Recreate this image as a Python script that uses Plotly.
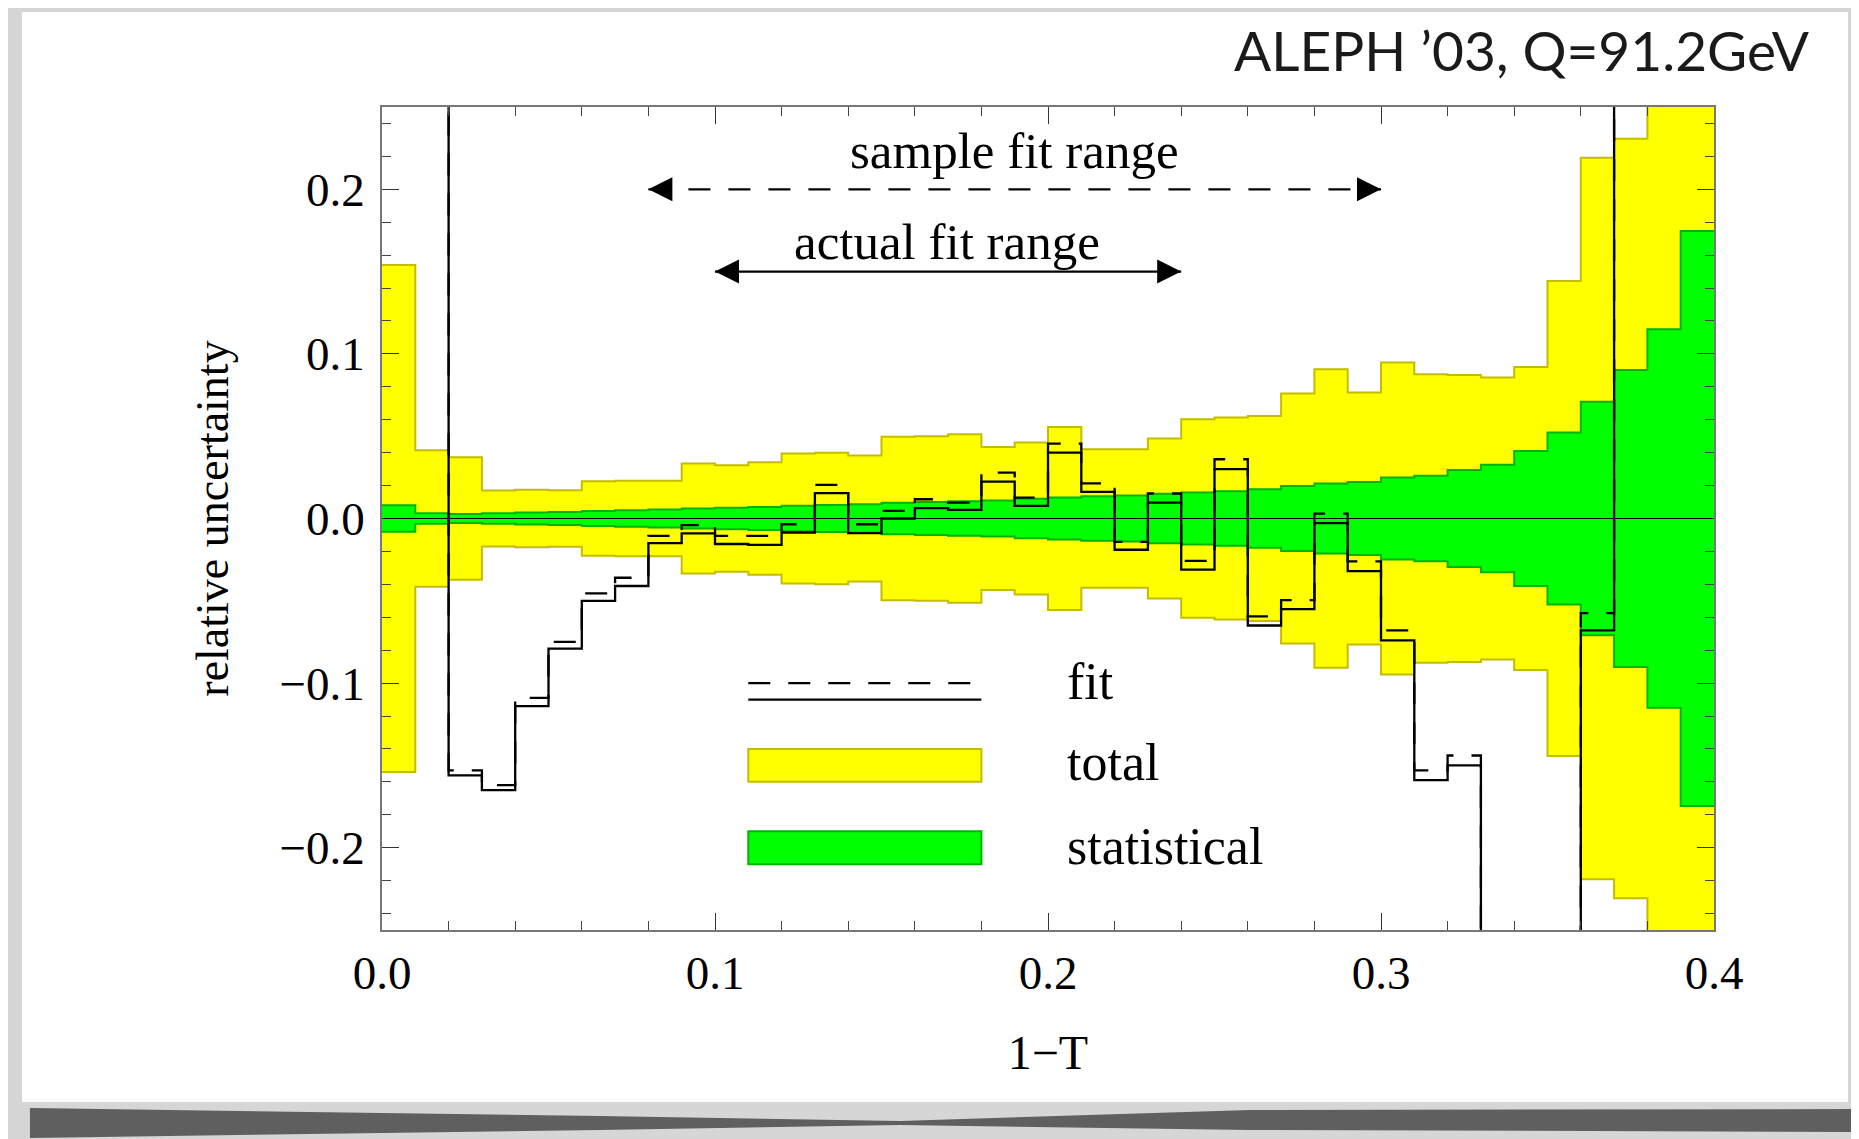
import plotly.graph_objects as go

# ---------------- data ----------------
bin_edges = [0.00, 0.01, 0.02, 0.03, 0.04, 0.05, 0.06, 0.07, 0.08, 0.09,
             0.10, 0.11, 0.12, 0.13, 0.14, 0.15, 0.16, 0.17, 0.18, 0.19,
             0.20, 0.21, 0.22, 0.23, 0.24, 0.25, 0.26, 0.27, 0.28, 0.29,
             0.30, 0.31, 0.32, 0.33, 0.34, 0.35, 0.36, 0.37, 0.38, 0.39, 0.40]

# total relative uncertainty (symmetric band), one value per bin
total_unc = [0.154, 0.0415, 0.0372, 0.0170, 0.0175, 0.0172, 0.0226, 0.0230, 0.0230, 0.0334,
             0.0324, 0.0341, 0.0395, 0.0400, 0.0383, 0.0496, 0.0500, 0.0512, 0.0435, 0.0461,
             0.0556, 0.0420, 0.0420, 0.0486, 0.0603, 0.0613, 0.0623, 0.0759, 0.0906, 0.0765,
             0.0947, 0.0876, 0.0872, 0.0856, 0.0920, 0.1443, 0.2192, 0.2307, 0.3000, 0.3000]

# statistical relative uncertainty (symmetric band)
stat_unc = [0.0080, 0.0032, 0.0028, 0.0032, 0.0036, 0.0040, 0.0045, 0.0050, 0.0055, 0.0060,
            0.0065, 0.0070, 0.0077, 0.0082, 0.0087, 0.0095, 0.0100, 0.0105, 0.0110, 0.0120,
            0.0127, 0.0135, 0.0140, 0.0150, 0.0158, 0.0165, 0.0178, 0.0198, 0.0212, 0.0222,
            0.0249, 0.0259, 0.0295, 0.0326, 0.0410, 0.0522, 0.0710, 0.0902, 0.1150, 0.1746]

# fit (solid) and fit (dashed); values outside +-0.25 are off scale
fit_solid = [0.40, 0.40, -0.156, -0.165, -0.114, -0.079, -0.050, -0.041, -0.015, -0.009,
             -0.0155, -0.016, -0.0085, 0.0154, -0.0089, 0.000, 0.0063, 0.0053, 0.0224, 0.0077,
             0.040, 0.0162, -0.019, 0.0097, -0.031, 0.030, -0.065, -0.055, -0.0028, -0.032,
             -0.074, -0.159, -0.150, -0.40, -0.40, -0.40, -0.068, 0.40, 0.40, 0.40]

fit_dashed = [0.40, 0.40, -0.153, -0.162, -0.109, -0.075, -0.0455, -0.036, -0.0105, -0.004,
              -0.0105, -0.0105, -0.0035, 0.0204, -0.0035, 0.0046, 0.0117, 0.0097, 0.0279, 0.0127,
              0.0455, 0.0214, -0.0142, 0.0152, -0.0257, 0.036, -0.0595, -0.0496, 0.003, -0.026,
              -0.068, -0.153, -0.144, -0.40, -0.40, -0.40, -0.0575, 0.40, 0.40, 0.40]

sample_fit_range = [0.08, 0.30]
actual_fit_range = [0.10, 0.24]

x_ticks = [0.0, 0.1, 0.2, 0.3, 0.4]
y_ticks = [-0.2, -0.1, 0.0, 0.1, 0.2]

# ---------------- style ----------------
YELLOW = "#FFFF00"
YELLOW_EDGE = "#C4BC00"
GREEN = "#00FF00"
GREEN_EDGE = "#00B400"
SERIF = "Liberation Serif, Times New Roman, serif"

OFF = 8  # page body margin
W, H = 1859 - OFF, 1139 - OFF
ML, MT = 382 - OFF, 107 - OFF
MR, MB = 1859 - 1714, 1139 - 930
PW, PH = W - ML - MR, H - MT - MB


def px(xp):
    """screen pixel x -> paper coordinate"""
    return (xp - OFF - ML) / PW


def py(yp):
    """screen pixel y -> paper coordinate"""
    return (H - MB - (yp - OFF)) / PH


def step_y(vals):
    return list(vals) + [vals[-1]]


fig = go.Figure()

# total band
fig.add_trace(go.Scatter(x=bin_edges, y=step_y([-v for v in total_unc]), mode="lines",
                         line=dict(shape="hv", color=YELLOW_EDGE, width=2),
                         hoverinfo="skip", showlegend=False))
fig.add_trace(go.Scatter(x=bin_edges, y=step_y(total_unc), mode="lines",
                         line=dict(shape="hv", color=YELLOW_EDGE, width=2),
                         fill="tonexty", fillcolor=YELLOW, name="total", showlegend=False))
# statistical band
fig.add_trace(go.Scatter(x=bin_edges, y=step_y([-v for v in stat_unc]), mode="lines",
                         line=dict(shape="hv", color=GREEN_EDGE, width=2),
                         hoverinfo="skip", showlegend=False))
fig.add_trace(go.Scatter(x=bin_edges, y=step_y(stat_unc), mode="lines",
                         line=dict(shape="hv", color=GREEN_EDGE, width=2),
                         fill="tonexty", fillcolor=GREEN, name="statistical", showlegend=False))

# fit curves
fig.add_trace(go.Scatter(x=bin_edges, y=step_y(fit_dashed), mode="lines",
                         line=dict(shape="hv", color="black", width=2.3, dash="22px,18px"),
                         name="fit (dashed)", showlegend=False))
fig.add_trace(go.Scatter(x=bin_edges, y=step_y(fit_solid), mode="lines",
                         line=dict(shape="hv", color="black", width=2.3),
                         name="fit", showlegend=False))

# fit-range arrows
fig.add_trace(go.Scatter(x=sample_fit_range, y=[0.2, 0.2], mode="lines",
                         line=dict(color="black", width=2.3, dash="22px,18px"),
                         hoverinfo="skip", showlegend=False))
fig.add_trace(go.Scatter(x=sample_fit_range, y=[0.2, 0.2], mode="markers",
                         marker=dict(symbol=["arrow-left", "arrow-right"], size=24, color="black"),
                         hoverinfo="skip", showlegend=False))
fig.add_trace(go.Scatter(x=actual_fit_range, y=[0.15, 0.15], mode="lines",
                         line=dict(color="black", width=2.3),
                         hoverinfo="skip", showlegend=False))
fig.add_trace(go.Scatter(x=actual_fit_range, y=[0.15, 0.15], mode="markers",
                         marker=dict(symbol=["arrow-left", "arrow-right"], size=24, color="black"),
                         hoverinfo="skip", showlegend=False))

# in-plot legend samples
fig.add_trace(go.Scatter(x=[0.11, 0.18], y=[-0.100, -0.100], mode="lines",
                         line=dict(color="black", width=2.3, dash="22px,18px"),
                         hoverinfo="skip", showlegend=False))
fig.add_trace(go.Scatter(x=[0.11, 0.18], y=[-0.110, -0.110], mode="lines",
                         line=dict(color="black", width=2.3),
                         hoverinfo="skip", showlegend=False))

shapes = [
    # paper sheet
    dict(type="rect", xref="paper", yref="paper", x0=px(22), x1=px(1848), y0=py(12), y1=py(1102),
         fillcolor="white", line=dict(width=0), layer="below"),
    # bottom shadow
    dict(type="path", xref="paper", yref="paper", layer="below",
         path=("M {:.4f},{:.4f} L {:.4f},{:.4f} L {:.4f},{:.4f} L {:.4f},{:.4f} L {:.4f},{:.4f} "
               "L {:.4f},{:.4f} L {:.4f},{:.4f} L {:.4f},{:.4f} L {:.4f},{:.4f} L {:.4f},{:.4f} Z").format(
             px(30), py(1108), px(600), py(1116), px(900), py(1121), px(1250), py(1110), px(1870), py(1109),
             px(1870), py(1132), px(1250), py(1130), px(900), py(1125), px(600), py(1130), px(30), py(1138)),
         fillcolor="#5f5f5f", line=dict(width=0)),
    # legend swatches
    dict(type="rect", xref="x", yref="y", x0=0.11, x1=0.18, y0=-0.16, y1=-0.14,
         fillcolor=YELLOW, line=dict(color=YELLOW_EDGE, width=2), layer="above"),
    dict(type="rect", xref="x", yref="y", x0=0.11, x1=0.18, y0=-0.21, y1=-0.19,
         fillcolor=GREEN, line=dict(color=GREEN_EDGE, width=2), layer="above"),
    # zero line
    dict(type="line", xref="paper", yref="y", x0=0, x1=1, y0=0, y1=0,
         line=dict(color="black", width=1.2), layer="above"),
]

annotations = [
    dict(text="sample fit range", x=0.19, y=0.223, xref="x", yref="y", showarrow=False,
         font=dict(family=SERIF, size=51, color="black"), xanchor="center", yanchor="middle"),
    dict(text="actual fit range", x=0.1696, y=0.168, xref="x", yref="y", showarrow=False,
         font=dict(family=SERIF, size=51, color="black"), xanchor="center", yanchor="middle"),
    dict(text="fit", x=0.205, y=-0.099, xref="x", yref="y", showarrow=False,
         font=dict(family=SERIF, size=52, color="black"), xanchor="left", yanchor="middle"),
    dict(text="total", x=0.205, y=-0.148, xref="x", yref="y", showarrow=False,
         font=dict(family=SERIF, size=52, color="black"), xanchor="left", yanchor="middle"),
    dict(text="statistical", x=0.205, y=-0.199, xref="x", yref="y", showarrow=False,
         font=dict(family=SERIF, size=52, color="black"), xanchor="left", yanchor="middle"),
    dict(text="ALEPH ’03, Q=91.2GeV", x=px(1812), y=py(50), xref="paper", yref="paper",
         showarrow=False, font=dict(family="Lato, Open Sans, sans-serif", size=55, color="#1a1a1a"),
         xanchor="right", yanchor="middle"),
]

axis_common = dict(
    showgrid=False, zeroline=False, showline=True, linecolor="#777777", linewidth=1.5,
    mirror="ticks", ticks="inside", ticklen=17, tickwidth=1.4, tickcolor="#333333",
    tickfont=dict(family=SERIF, size=47, color="black"),
)

fig.update_layout(
    width=W, height=H,
    margin=dict(l=ML, r=MR, t=MT, b=MB, autoexpand=False),
    paper_bgcolor="#d6d6d6", plot_bgcolor="white",
    showlegend=False,
    shapes=shapes, annotations=annotations,
    xaxis=dict(range=[0, 0.4], tickvals=x_ticks, tickformat=".1f",
               minor=dict(dtick=0.02, ticklen=9, tickwidth=1.2, tickcolor="#444444", ticks="inside"),
               ticklabelstandoff=1,
               title=dict(text="1−T", font=dict(family=SERIF, size=48, color="black"), standoff=37),
               **axis_common),
    yaxis=dict(range=[-0.25, 0.25], tickvals=y_ticks, tickformat=".1f",
               minor=dict(dtick=0.02, ticklen=9, tickwidth=1.2, tickcolor="#444444", ticks="inside"),
               ticklabelstandoff=6,
               title=dict(text="relative uncertainty", font=dict(family=SERIF, size=46, color="black"),
                          standoff=36),
               **axis_common),
)

fig.write_html("out.html")
